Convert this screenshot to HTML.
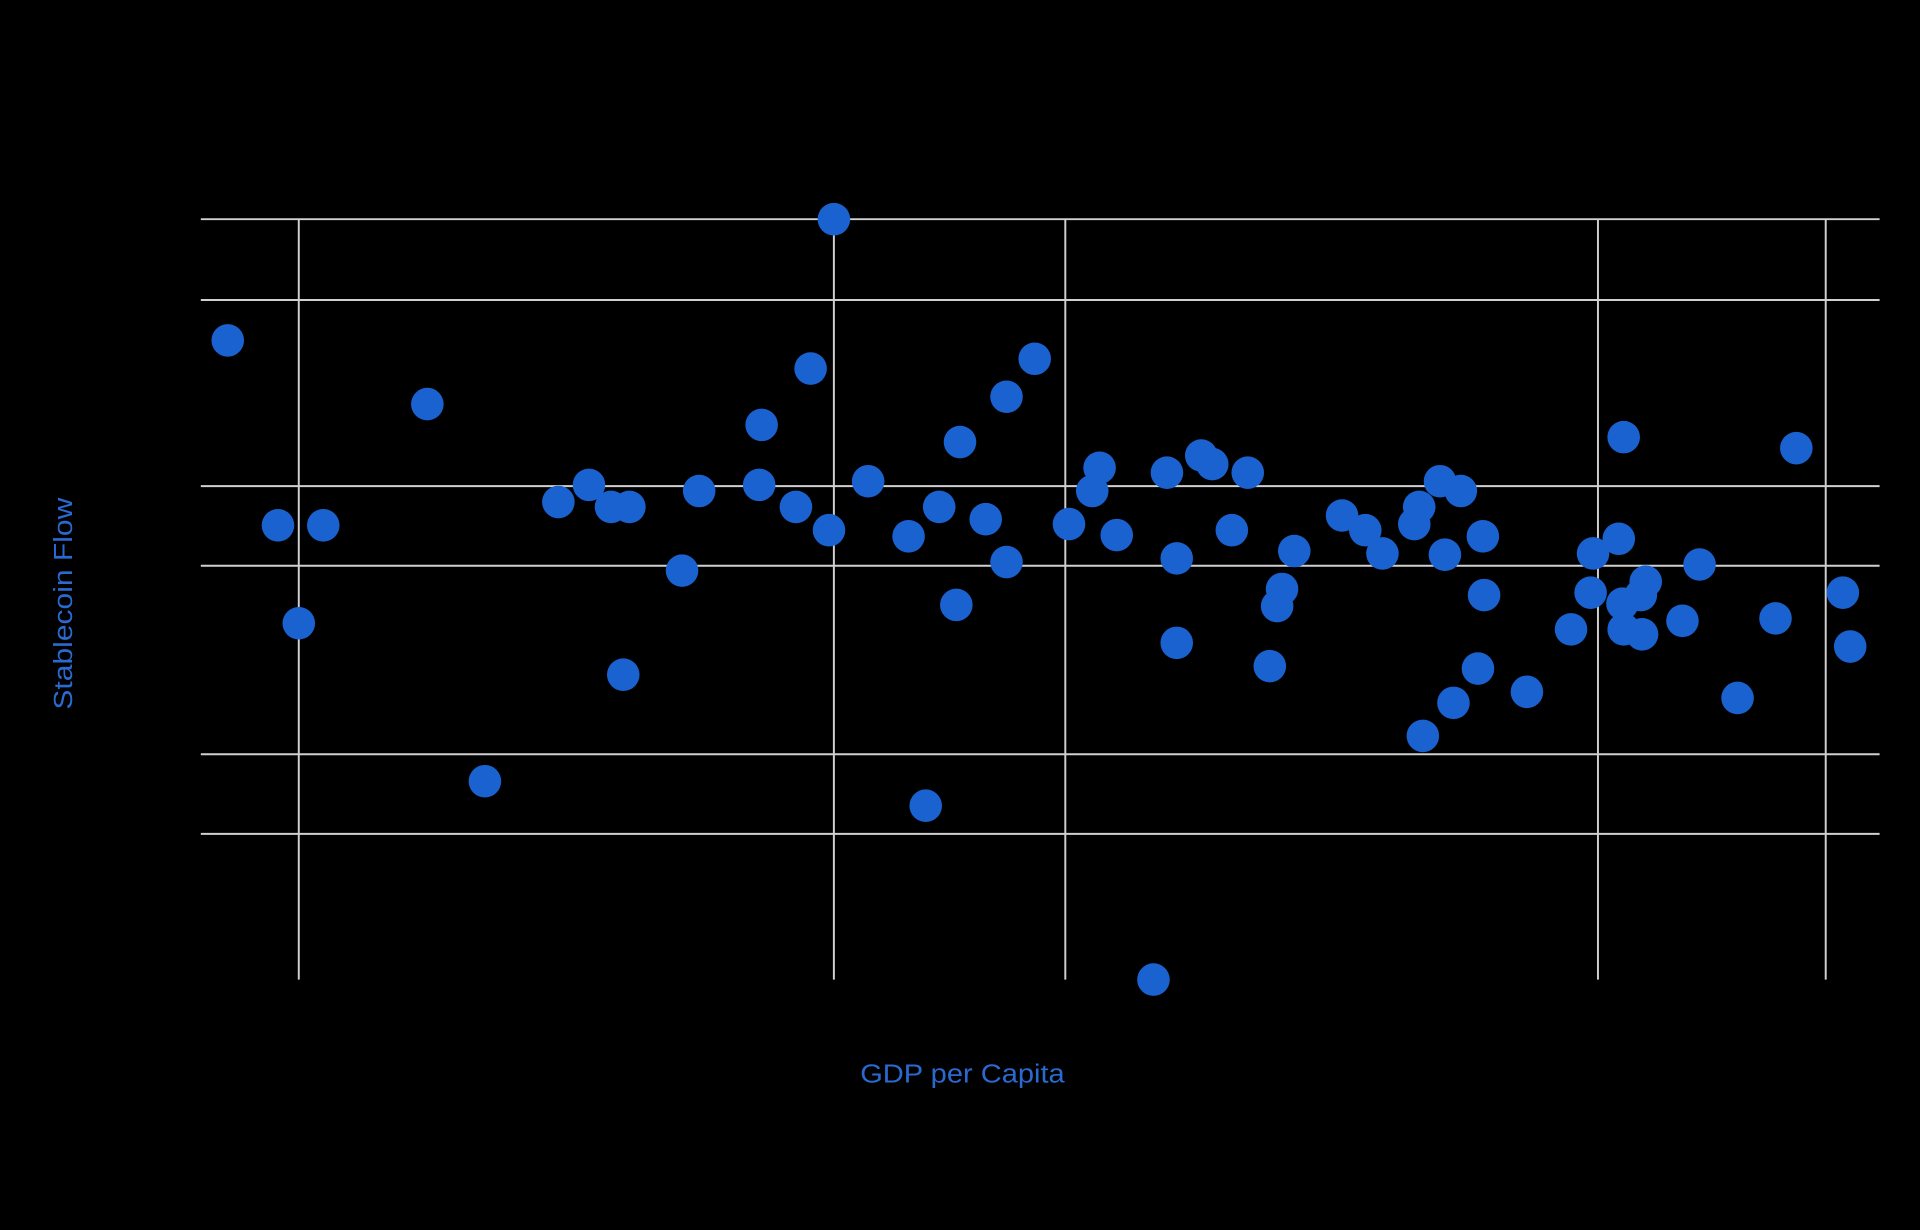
<!DOCTYPE html>
<html><head><style>html,body{margin:0;padding:0;background:#000;width:1920px;height:1230px;overflow:hidden}</style></head>
<body>
<svg width="1920" height="1230" viewBox="0 0 1568 1004.5" preserveAspectRatio="none" xmlns="http://www.w3.org/2000/svg">
<rect width="1568" height="1005" fill="#000"/>
<g stroke="#d0d0d0" stroke-width="1.6">
<line x1="164" x2="1535" y1="179" y2="179"/><line x1="164" x2="1535" y1="245" y2="245"/>
<line x1="164" x2="1535" y1="397" y2="397"/><line x1="164" x2="1535" y1="462" y2="462"/>
<line x1="164" x2="1535" y1="616" y2="616"/><line x1="164" x2="1535" y1="681" y2="681"/>
<line x1="244" x2="244" y1="179" y2="800"/><line x1="681" x2="681" y1="179" y2="800"/>
<line x1="870" x2="870" y1="179" y2="800"/><line x1="1305" x2="1305" y1="179" y2="800"/>
<line x1="1491" x2="1491" y1="179" y2="800"/>
</g>
<g fill="#1a62d0" id="pts"></g>
<text x="786" y="884" fill="#2a6ad0" font-family="Liberation Sans, sans-serif" font-size="21" text-anchor="middle" textLength="167" lengthAdjust="spacingAndGlyphs">GDP per Capita</text>
<text transform="translate(59,493) rotate(-90)" fill="#2a6ad0" font-family="Liberation Sans, sans-serif" font-size="21" text-anchor="middle" textLength="173" lengthAdjust="spacingAndGlyphs">Stablecoin Flow</text>
</svg>
<script>
var p=[[186,278],[227,429],[264,429],[244,509],[349,330],[396,638],[456,410],[481,396],[499,414],[514,414],[509,551],[557,466],[571,401],[620,396],[622,347],[650,414],[662,301],[677,433],[681,179],[709,393],[742,438],[756,658],[767,414],[781,494],[784,361],[805,424],[822,324],[822,459],[845,293],[873,428],[892,401],[898,382],[912,437],[942,800],[953,386],[961,456],[961,525],[981,372],[990,379],[1006,433],[1019,386],[1037,544],[1043,495],[1047,481],[1057,450],[1096,421],[1115,433],[1129,452],[1155,428],[1159,414],[1162,601],[1176,393],[1180,453],[1187,574],[1193,401],[1207,546],[1211,438],[1212,486],[1247,565],[1283,514],[1299,484],[1301,452],[1322,440],[1326,357],[1325,493],[1326,514],[1340,486],[1341,518],[1344,475],[1374,507],[1388,461],[1419,570],[1450,505],[1467,366],[1505,484],[1511,528]];
var g=document.getElementById('pts'),s='';
p.forEach(function(c){s+='<circle cx="'+c[0]+'" cy="'+c[1]+'" r="13.3"/>';});
g.innerHTML=s;
</script>
</body></html>
